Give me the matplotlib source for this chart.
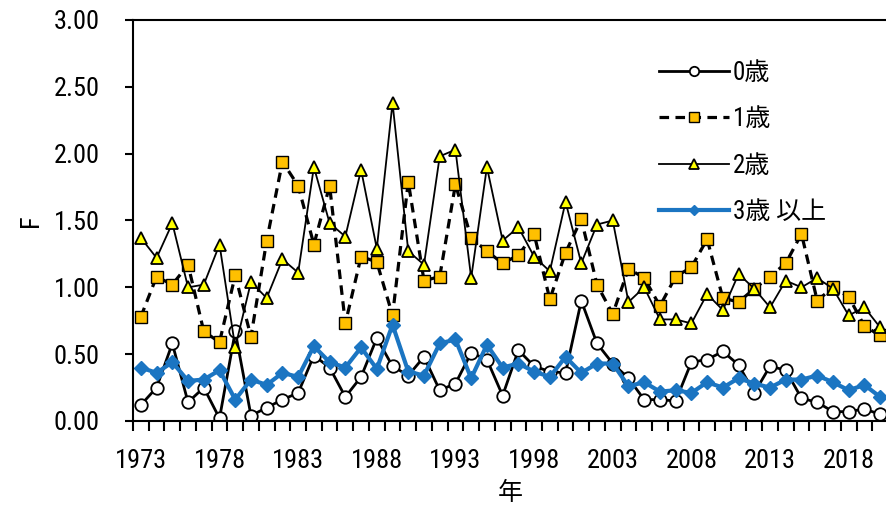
import matplotlib.pyplot as plt
import numpy as np

plt.rcParams['font.family'] = ['Roboto Condensed', 'Noto Sans CJK JP', 'DejaVu Sans']

years = list(range(1973, 2021))

age0 = [0.12, 0.25, 0.58, 0.14, 0.25, 0.02, 0.67, 0.04, 0.10, 0.16,
        0.21, 0.49, 0.40, 0.18, 0.33, 0.62, 0.41, 0.34, 0.48, 0.23,
        0.28, 0.51, 0.46, 0.19, 0.53, 0.41, 0.37, 0.36, 0.90, 0.58,
        0.43, 0.32, 0.16, 0.16, 0.15, 0.44, 0.46, 0.52, 0.42, 0.21,
        0.41, 0.38, 0.17, 0.14, 0.07, 0.07, 0.09, 0.05]
age1 = [0.78, 1.08, 1.02, 1.17, 0.67, 0.59, 1.09, 0.63, 1.35, 1.94,
        1.76, 1.32, 1.76, 0.73, 1.23, 1.19, 0.79, 1.79, 1.05, 1.08,
        1.77, 1.37, 1.27, 1.18, 1.24, 1.40, 0.91, 1.26, 1.51, 1.02,
        0.80, 1.14, 1.07, 0.86, 1.08, 1.15, 1.36, 0.92, 0.89, 0.99,
        1.08, 1.18, 1.40, 0.90, 1.00, 0.93, 0.71, 0.64]
age2 = [1.37, 1.22, 1.48, 1.00, 1.02, 1.32, 0.55, 1.04, 0.92, 1.21,
        1.11, 1.90, 1.48, 1.38, 1.88, 1.29, 2.38, 1.27, 1.17, 1.98,
        2.03, 1.07, 1.90, 1.35, 1.45, 1.23, 1.12, 1.64, 1.18, 1.47,
        1.50, 0.89, 1.00, 0.76, 0.76, 0.73, 0.95, 0.83, 1.10, 0.99,
        0.85, 1.05, 1.00, 1.07, 0.99, 0.79, 0.85, 0.70]
age3 = [0.40, 0.36, 0.44, 0.30, 0.31, 0.38, 0.16, 0.31, 0.27, 0.36,
        0.33, 0.56, 0.44, 0.40, 0.55, 0.39, 0.72, 0.37, 0.34, 0.58,
        0.61, 0.32, 0.57, 0.40, 0.43, 0.37, 0.33, 0.48, 0.36, 0.43,
        0.43, 0.26, 0.29, 0.22, 0.23, 0.21, 0.29, 0.25, 0.32, 0.28,
        0.25, 0.31, 0.31, 0.34, 0.29, 0.23, 0.27, 0.18]

fig = plt.figure(figsize=(8.86, 5.08), dpi=100)
ax = fig.add_axes([133 / 886, 87 / 508, 755 / 886, 401 / 508])

ax.plot(years, age0, color='black', lw=2, marker='o', ms=9,
        mfc='white', mec='black', mew=1.3, label='0歳')
ax.plot(years, age1, color='black', lw=2.3, ls=(0, (3, 2)), marker='s', ms=9,
        mfc='#FFC000', mec='black', mew=1.0, label='1歳')
ax.plot(years, age2, color='black', lw=1.3, marker='^', ms=9,
        mfc='#FFFF00', mec='black', mew=1.3, label='2歳')
ax.plot(years, age3, color='#1B75C2', lw=3, marker='D', ms=7,
        mfc='#1B75C2', mec='#1B75C2', label='3歳 以上')

ax.set_xlim(1972.5, 2020.5)
ax.set_ylim(0, 3)
ax.set_yticks(np.arange(0, 3.01, 0.5))
ax.set_yticklabels([f'{v:.2f}' for v in np.arange(0, 3.01, 0.5)])
ax.set_xticks(range(1973, 2021, 5))
ax.set_xticks(np.arange(1972.5, 2021, 1), minor=True)
ax.tick_params(axis='x', which='major', length=0, labelsize=19, pad=20)
ax.tick_params(axis='x', which='minor', length=7, width=1.5, direction='out')
ax.tick_params(axis='y', length=6, width=1.5, labelsize=19, pad=18)
for s in ax.spines.values():
    s.set_linewidth(1.5)

ax.set_xlabel('年', fontsize=18, labelpad=6)
ax.set_ylabel('F', fontsize=19, labelpad=8)

ax.legend(loc='upper left', bbox_to_anchor=(0.667, 0.955), frameon=False,
          fontsize=18, handlelength=2.8, labelspacing=0.9, handletextpad=0.15,
          markerscale=0.75)

fig.savefig('out.png', dpi=100)
